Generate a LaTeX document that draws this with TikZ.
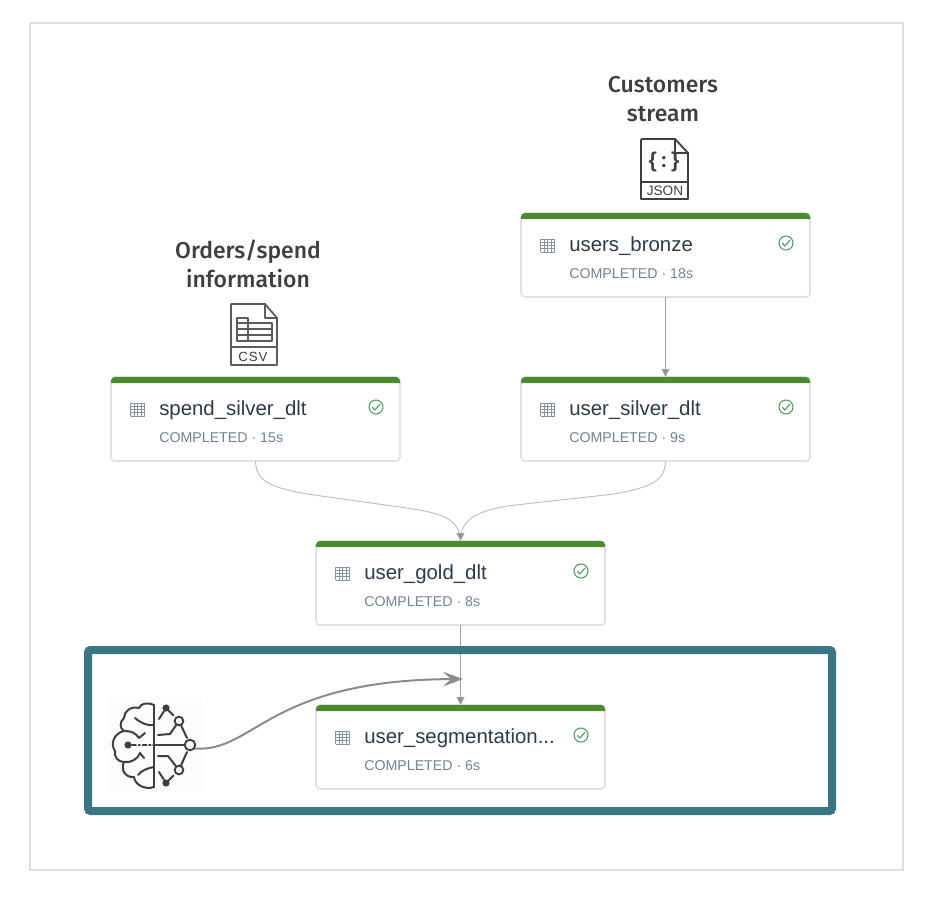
\documentclass[tikz,border=0pt]{standalone}
\usepackage{fontspec}
\setmainfont{Liberation Sans}
\newfontfamily\hdfont{Fira Sans Medium}
\usetikzlibrary{arrows.meta,calc}
\definecolor{gbar}{HTML}{4C8A2E}
\definecolor{cardline}{HTML}{E0E1E2}
\definecolor{okgreen}{HTML}{4F9A62}
\definecolor{titlec}{HTML}{2F3A48}
\definecolor{subc}{HTML}{76828F}
\definecolor{gridc}{HTML}{8A939C}
\definecolor{teal}{HTML}{3A7583}
\definecolor{framec}{HTML}{DEDEDE}
\definecolor{linkc}{HTML}{BEBEBE}
\definecolor{iconc}{HTML}{3F3F3F}
\definecolor{armc}{HTML}{8C8C8C}
\tikzset{
  x=0.75pt,y=-0.75pt,
  cardbox/.style={draw=cardline,line width=1.2pt,fill=white,rounded corners=3pt,minimum width=216.75pt,minimum height=63pt,inner sep=0pt,outer sep=0pt,anchor=north west},
  cardtitle/.style={anchor=west,inner sep=0pt,text=titlec,font=\fontsize{15.3pt}{18pt}\selectfont},
  cardsub/.style={anchor=west,inner sep=0pt,text=subc,font=\fontsize{10.65pt}{12pt}\selectfont},
  heading/.style={align=center,inner sep=0pt,text=iconc,font=\hdfont\fontsize{17.2pt}{21.6pt}\selectfont},
  link/.style={draw=linkc!85!black,line width=0.9pt,-{Triangle[length=6pt,width=6pt,fill=linkc!75!black]}},
  curvelink/.style={draw=linkc,line width=0.7pt},
  iconline/.style={draw=iconc,line width=1.35pt,line cap=round,line join=round},
  brainline/.style={draw=iconc,line width=1.5pt,line cap=round,line join=round},
  doticon/.style={circle,fill=iconc,inner sep=0pt,minimum size=5.4pt},
  ringicon/.style={circle,draw=iconc,line width=1.4pt,fill=white,inner sep=0pt},
}
\newcommand{\card}[5]{%
  % name, left, top, title, sub
  \node[cardbox] (#1) at (#2,#3) {};
  \begin{scope}[shift={(#2,#3)}]
    \fill[gbar] (0,6) [rounded corners=3pt] -- (0,0) -- (289,0) [sharp corners] -- (289,6) -- cycle;
    \foreach \gpos in {0,3.5,7,10.5,14}{
      \draw[gridc,line width=0.5pt] (19.5+\gpos,26) -- (19.5+\gpos,39);
    }
    \foreach \gpos in {0,3.25,6.5,9.75,13}{
      \draw[gridc,line width=0.5pt] (19.5,26+\gpos) -- (33.5,26+\gpos);
    }
    \node[cardtitle] (#1-title) at (48,33.5) {#4};
    \node[cardsub] (#1-sub) at (48,60.5) {#5};
    \node[circle,draw=okgreen,line width=0.8pt,minimum size=10.5pt,inner sep=0pt] (#1-ok) at (265,30) {};
    \draw[okgreen,line width=0.8pt,line cap=round,line join=round] (261.5,30.5) -- (264,33) -- (269,27);
  \end{scope}
}
\begin{document}
\begin{tikzpicture}
\useasboundingbox (0,0) rectangle (928,900);
\fill[white] (0,0) rectangle (928,900);
\draw[framec,line width=1.5pt] (30,23) rectangle (903,870);

% cards
\card{bronze}{521}{213}{users\_bronze}{COMPLETED · 18s}
\card{usilver}{521}{377}{user\_silver\_dlt}{COMPLETED · 9s}
\card{ssilver}{111}{377}{spend\_silver\_dlt}{COMPLETED · 15s}
\card{gold}{316}{541}{user\_gold\_dlt}{COMPLETED · 8s}
\card{seg}{316}{705}{user\_segmentation...}{COMPLETED · 6s}

% connectors
\draw[link] (bronze.south) -- (usilver.north);
\draw[link] (gold.south) -- (seg.north);
\draw[curvelink] (ssilver.south) .. controls (256,480) and (268,487) .. (307,494) -- (407,508) .. controls (440,513) and (460,518) .. (gold.north);
\draw[curvelink] (usilver.south) .. controls (665,480) and (653,487) .. (614,494) -- (507,506) .. controls (480,511) and (460,518) .. (gold.north);
\draw[link] ($(gold.north)+(0,-6)$) -- (gold.north);

% teal highlight
\draw[teal,line width=6pt,rounded corners=2pt] (88,650) rectangle (832,811);

% headings
\node[heading] (custhead) at (663,99) {Customers\\stream};
\node[heading] (ordhead) at (248,263.5) {Orders/spend\\information};

% JSON file icon
\draw[iconline] (675,139) -- (642,139) -- (641,140) -- (641,199) -- (688,199) -- (688,153) -- cycle;
\draw[iconline] (675,139) -- (675,153) -- (688,153);
\draw[iconline] (641,182) -- (688,182);
\node[inner sep=0pt,text=iconc,font=\bfseries\fontsize{16pt}{16pt}\selectfont] (jsonbrace) at (664,162) {\{\,:\,\}};
\node[inner sep=0pt,text=iconc,font=\fontsize{10.2pt}{10pt}\selectfont] (jsonlabel) at (665,191) {JSON};

% CSV file icon
\draw[iconline,draw=iconc!85] (265,304) -- (231,304) -- (231,365) -- (277,365) -- (277,318) -- cycle;
\draw[iconline,draw=iconc!85] (265,304) -- (265,318) -- (277,318);
\draw[iconline,draw=iconc!85] (231,347) -- (277,347);
\draw[iconline,draw=iconc!85,line width=1pt] (237,318) -- (248,318) -- (248,323) -- (272,323) -- (272,341) -- (237,341) -- cycle;
\draw[iconline,draw=iconc!85,line width=1pt] (237,323) -- (248,323) (237,329) -- (272,329) (237,335) -- (272,335) (248,323) -- (248,341);
\node[inner sep=0pt,text=iconc,font=\fontsize{10pt}{10pt}\selectfont] (csvlabel) at (253,357) {C\kern0.7pt S\kern0.7pt V};

% brain icon
\fill[black!1] (108,698) rectangle (202,792);
\draw[brainline] (154,705) -- (154,787);
\draw[brainline] (154,705) .. controls (148,702) and (141,703) .. (139,708)
  .. controls (131,706) and (124,711) .. (124,718) .. controls (119,722) and (120,729) .. (124,731)
  .. controls (114,733) and (110,744) .. (115,751) .. controls (114,757) and (118,762) .. (124,762)
  .. controls (120,770) and (126,778) .. (134,777) .. controls (135,785) and (145,790) .. (154,787);
\draw[brainline] (154,725) .. controls (147,726) and (141,723) .. (135,718);
\draw[brainline] (125,731) .. controls (131,731) and (136,733) .. (139,738) (139,738) -- (145,733);
\draw[brainline] (124,762) .. controls (131,763) and (138,759) .. (140,753) (140,753) -- (144,758);
\draw[brainline] (154,767) .. controls (148,768) and (142,770) .. (138,775);
\node[doticon] (braincore) at (128,745) {};
\node[ringicon,minimum size=8pt] (brainout) at (190,745) {};
\node[ringicon,minimum size=6.5pt] (ringup) at (179,721) {};
\node[ringicon,minimum size=6.5pt] (ringdown) at (179,770) {};
\node[doticon] (dotup) at (166,708) {};
\node[doticon] (dotdown) at (166,783) {};
\draw[brainline,dash pattern=on 3pt off 2pt on 1pt off 2pt] (braincore) -- (158,745);
\draw[brainline] (158,745) -- (brainout);
\draw[brainline] (dotup) -- (159,719);
\draw[brainline] (dotdown) -- (159,772);
\draw[brainline,dash pattern=on 5pt off 2.5pt] (dotup) -- (ringup);
\draw[brainline,dash pattern=on 5pt off 2.5pt] (dotdown) -- (ringdown);
\draw[brainline] (ringup) -- (170,734) -- (158,735);
\draw[brainline] (ringdown) -- (168,756) -- (158,756);
\draw[brainline] (ringup) -- (187,738);
\draw[brainline] (ringdown) -- (187,752);

% arrow from brain
\coordinate (merge) at (463,679);
\draw[armc,line width=1.5pt,-{Stealth[length=15pt,width=11pt,inset=6pt]}] (brainout.-35) .. controls (255,752) and (268,680) .. (merge);
\end{tikzpicture}
\end{document}
